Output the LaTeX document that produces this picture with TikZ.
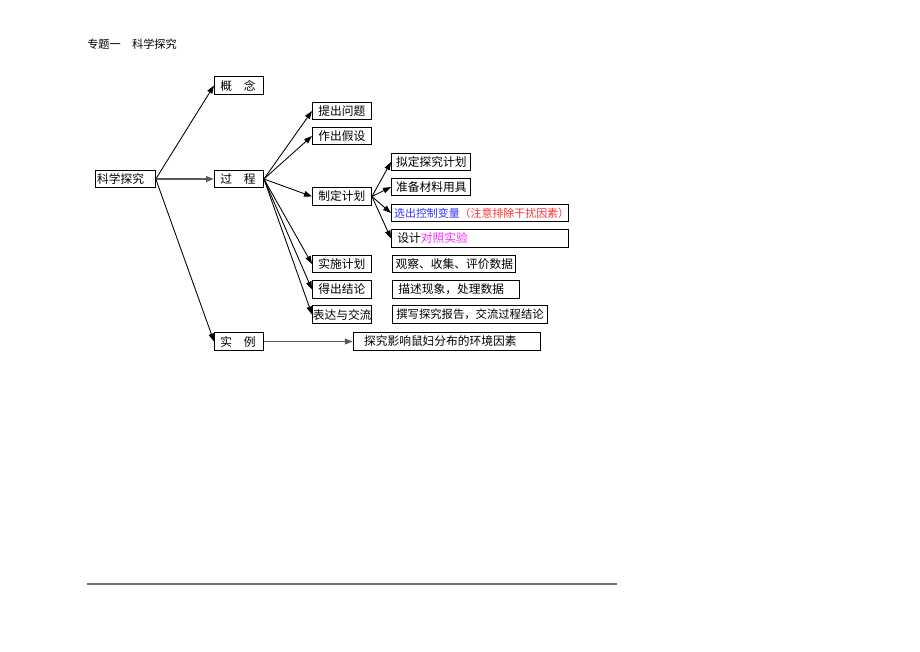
\documentclass[tikz,border=0pt]{standalone}
\usepackage{fontspec}
\newfontfamily\cjk{Noto Sans CJK SC}
\usepackage{tikz}
\usetikzlibrary{arrows.meta, positioning}
\usepackage{xcolor}
\definecolor{varblue}{RGB}{51,51,255}
\definecolor{notered}{RGB}{255,51,51}
\definecolor{designpink}{RGB}{255,40,255}

\begin{document}
\begin{tikzpicture}[
    x=0.75pt, y=-0.75pt,
    box/.style={draw, line width=0.7pt, anchor=west, text width=#1, align=left,
                minimum height=13pt, inner xsep=4.5pt, inner ysep=0pt,
                font=\cjk\fontsize{8.8}{10}\selectfont},
    box/.default=35pt,
    arr/.style={-{Triangle[length=6pt, width=4.2pt]}, line width=0.65pt},
    link/.style={arr, line width=1.3pt, draw=black!65},
    node distance=15pt
]
\useasboundingbox (0,0) rectangle (920,651);

\node[anchor=west, inner sep=0pt, font=\cjk\fontsize{8.4}{10}\selectfont] (title) at (87,44) {专题一　科学探究};

% main branches
\node[box=42.5pt, inner xsep=1.2pt] (kxtj) at (95,179) {科学探究};
\node[box=27.75pt] (gainian) at (214,85.5) {概　念};
\node[box=27.75pt] (guocheng) at (214,179) {过　程};
\node[box=27.75pt] (shili) at (214,341.5) {实　例};

\draw[arr] (kxtj.east) -- (gainian.west);
\draw[link] (kxtj.east) -- (guocheng.west);
\draw[arr] (kxtj.east) -- (shili.west);

% steps of the process
\node[box=35.25pt] (tcwt) at (312,111) {提出问题};
\node[box=35.25pt] (zcjs) at (312,136) {作出假设};
\node[box=35.25pt] (zdjh) at (312,196.5) {制定计划};
\node[box=35.25pt] (ssjh) at (312,264) {实施计划};
\node[box=35.25pt] (dcjl) at (312,289.5) {得出结论};
\node[box=43.75pt, inner xsep=0.25pt] (bdjl) at (312,314.5) {表达与交流};

\draw[arr] (guocheng.east) -- (tcwt.west);
\draw[arr] (guocheng.east) -- (zcjs.west);
\draw[arr] (guocheng.east) -- (zdjh.west);
\draw[arr] (guocheng.east) -- (ssjh.west);
\draw[arr] (guocheng.east) -- (dcjl.west);
\draw[arr] (guocheng.east) -- (bdjl.west);

% making the plan
\node[box=52.25pt, inner xsep=3.5pt] (ndjh) at (391,162) {拟定探究计划};
\node[box=52.25pt, inner xsep=3.5pt] (zbcl) at (391,187) {准备材料用具};
\node[box=128.75pt, inner xsep=2pt, font=\cjk\fontsize{8.2}{10}\selectfont] (xckz) at (391,213)
    {\textcolor{varblue}{选出控制变量}\textcolor{notered}{（注意排除干扰因素）}};
\node[box=123.75pt] (sjdz) at (391,238.5) {设计\textcolor{designpink}{对照实验}};

\draw[arr] (zdjh.east) -- (ndjh.west);
\draw[arr] (zdjh.east) -- (zbcl.west);
\draw[arr] (zdjh.east) -- (xckz.west);
\draw[arr] (zdjh.east) -- (sjdz.west);

% notes beside the later steps
\node[box=87.25pt, inner xsep=2.5pt, right=15pt of ssjh] (gcsj) {观察、收集、评价数据};
\node[box=86.25pt, right=15pt of dcjl] (msxx) {描述现象，处理数据};
\node[box=110.25pt, inner xsep=3pt, font=\cjk\fontsize{8.5}{10}\selectfont, right=15pt of bdjl] (zxbg) {撰写探究报告，交流过程结论};

% example
\node[box=124.25pt, inner xsep=8pt, right=66.75pt of shili] (tjyx) {探究影响鼠妇分布的环境因素};
\draw[link] (shili.east) -- (tjyx.west);

\draw[draw=black!55, line width=1pt] (87,584) -- (617,584);
\end{tikzpicture}
\end{document}
